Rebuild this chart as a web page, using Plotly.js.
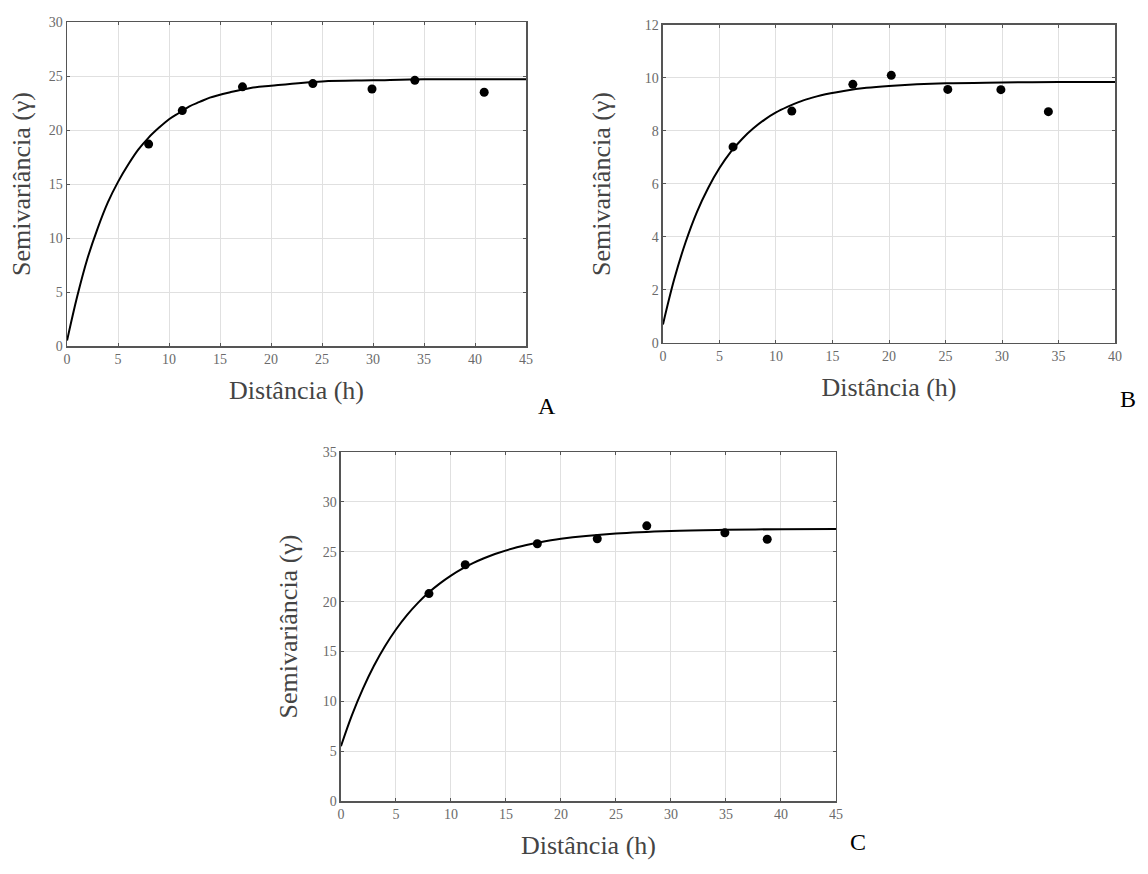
<!DOCTYPE html>
<html>
<head>
<meta charset="utf-8">
<script src="https://cdn.plot.ly/plotly-3.0.1.min.js"></script>
<style>html,body{margin:0;padding:0;background:#fff;}#chart{width:1148px;height:874px;}</style>
</head>
<body>
<div id="chart"></div>
<script>
// Panel A
const aPointsX = [8.0, 11.3, 17.2, 24.1, 29.9, 34.1, 40.9];
const aPointsY = [18.7, 21.8, 24.0, 24.3, 23.8, 24.6, 23.5];
const aCurveX = [0, 1, 2, 3, 4, 5, 6, 7, 8, 9, 10, 11, 12, 13, 14, 16, 18, 20, 25, 30, 35, 40, 45];
const aCurveY = [0.5, 4.6, 8.1, 10.9, 13.3, 15.2, 16.8, 18.2, 19.3, 20.2, 21.0, 21.6, 22.2, 22.6, 23.0, 23.5, 23.9, 24.1, 24.5, 24.6, 24.7, 24.7, 24.7];
// Panel B
const bPointsX = [6.2, 11.4, 16.8, 20.2, 25.2, 29.9, 34.1];
const bPointsY = [7.4, 8.75, 9.76, 10.1, 9.57, 9.56, 8.73];
const bCurveX = [0, 1, 2, 3, 4, 5, 6, 7, 8, 9, 10, 11, 12, 13, 14, 16, 18, 20, 25, 30, 35, 40];
const bCurveY = [0.7, 2.41, 3.80, 4.94, 5.85, 6.60, 7.21, 7.70, 8.10, 8.43, 8.70, 8.91, 9.09, 9.23, 9.35, 9.51, 9.63, 9.70, 9.80, 9.83, 9.85, 9.85];
// Panel C
const cPointsX = [8.0, 11.3, 17.85, 23.3, 27.8, 34.9, 38.75];
const cPointsY = [20.8, 23.7, 25.8, 26.3, 27.6, 26.9, 26.25];
const cCurveX = [0, 1, 2, 3, 4, 5, 6, 7, 8, 9, 10, 11, 12, 13, 14, 16, 18, 20, 25, 30, 35, 40, 45];
const cCurveY = [5.5, 8.61, 11.27, 13.56, 15.52, 17.20, 18.64, 19.87, 20.93, 21.83, 22.61, 23.28, 23.86, 24.35, 24.77, 25.45, 25.93, 26.30, 26.83, 27.09, 27.20, 27.26, 27.28];

const xTitle = 'Distância (h)';
const yTitle = 'Semivariância (γ)';
const panelLabels = ['A', 'B', 'C'];

const serif = '"Liberation Serif", "Times New Roman", serif';
const lineStyle = {color: '#000', width: 2, shape: 'spline', smoothing: 1};
const markerStyle = {color: '#000', size: 9};

const traces = [
  {x: aCurveX, y: aCurveY, mode: 'lines', line: lineStyle, xaxis: 'x', yaxis: 'y', hoverinfo: 'skip'},
  {x: aPointsX, y: aPointsY, mode: 'markers', marker: markerStyle, xaxis: 'x', yaxis: 'y'},
  {x: bCurveX, y: bCurveY, mode: 'lines', line: lineStyle, xaxis: 'x2', yaxis: 'y2', hoverinfo: 'skip'},
  {x: bPointsX, y: bPointsY, mode: 'markers', marker: markerStyle, xaxis: 'x2', yaxis: 'y2'},
  {x: cCurveX, y: cCurveY, mode: 'lines', line: lineStyle, xaxis: 'x3', yaxis: 'y3', hoverinfo: 'skip'},
  {x: cPointsX, y: cPointsY, mode: 'markers', marker: markerStyle, xaxis: 'x3', yaxis: 'y3'}
];

function xAxis(domain, range, dtick, anchor) {
  return {
    domain: domain, range: range, dtick: dtick, tick0: 0, anchor: anchor,
    showline: true, linecolor: '#555', linewidth: 1.5, mirror: 'ticks',
    ticks: 'inside', ticklen: 3, tickcolor: '#555',
    showgrid: true, gridcolor: '#e0e0e0', gridwidth: 1, zeroline: false,
    tickfont: {family: serif, size: 14, color: '#6a6a6a'},
    title: {text: xTitle, font: {family: serif, size: 26, color: '#444'}, standoff: 14},
    automargin: false
  };
}
function yAxis(domain, range, dtick, anchor, standoff) {
  return {
    domain: domain, range: range, dtick: dtick, tick0: 0, anchor: anchor,
    showline: true, linecolor: '#555', linewidth: 1.5, mirror: 'ticks',
    ticks: 'inside', ticklen: 3, tickcolor: '#555',
    showgrid: true, gridcolor: '#e0e0e0', gridwidth: 1, zeroline: false,
    tickfont: {family: serif, size: 14, color: '#6a6a6a'},
    title: {text: yTitle, font: {family: serif, size: 26, color: '#444'}, standoff: standoff},
    automargin: false
  };
}

const layout = {
  width: 1148, height: 874,
  margin: {l: 0, r: 0, t: 0, b: 0},
  paper_bgcolor: '#fff', plot_bgcolor: '#fff',
  showlegend: false,
  xaxis: xAxis([0.0584, 0.4582], [0, 45], 5, 'y'),
  yaxis: yAxis([0.6041, 0.9748], [0, 30], 5, 'x', 10),
  xaxis2: xAxis([0.5775, 0.9713], [0, 40], 5, 'y2'),
  yaxis2: yAxis([0.6076, 0.9714], [0, 12], 2, 'x2', 26),
  xaxis3: xAxis([0.2970, 0.7282], [0, 45], 5, 'y3'),
  yaxis3: yAxis([0.0835, 0.4828], [0, 35], 5, 'x3', 17),
  annotations: [
    {text: panelLabels[0], xref: 'paper', yref: 'paper', x: 547/1148, y: 1 - 406/874, showarrow: false, font: {family: serif, size: 24, color: '#000'}},
    {text: panelLabels[1], xref: 'paper', yref: 'paper', x: 1138/1148, y: 1 - 399/874, showarrow: false, font: {family: serif, size: 24, color: '#000'}},
    {text: panelLabels[2], xref: 'paper', yref: 'paper', x: 868/1148, y: 1 - 857/874, showarrow: false, font: {family: serif, size: 24, color: '#000'}}
  ]
};

Plotly.newPlot('chart', traces, layout, {displayModeBar: false, staticPlot: true});
</script>
</body>
</html>
